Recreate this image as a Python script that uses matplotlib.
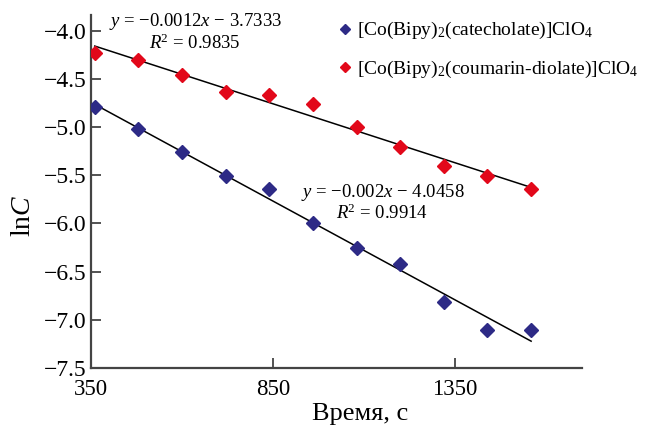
import numpy as np
import matplotlib
matplotlib.use("Agg")
import matplotlib.pyplot as plt

plt.rcParams['font.family'] = ['Liberation Serif', 'DejaVu Serif']
plt.rcParams['mathtext.fontset'] = 'custom'
plt.rcParams['mathtext.rm'] = 'Liberation Serif'
plt.rcParams['mathtext.it'] = 'Liberation Serif:italic'

# time, s
t = [360, 480, 600, 720, 840, 960, 1080, 1200, 1320, 1440, 1560]
# ln C values
ln_cat = [-4.795, -5.02, -5.26, -5.51, -5.64, -6.00, -6.25, -6.42, -6.81, -7.11, -7.11]
ln_cou = [-4.235, -4.31, -4.46, -4.64, -4.665, -4.76, -5.00, -5.21, -5.40, -5.505, -5.645]

lab_cat = r'[Co(Bipy)$_2$(catecholate)]ClO$_4$'
lab_cou = r'[Co(Bipy)$_2$(coumarin-diolate)]ClO$_4$'
eq_cat = '$y$ = \u22120.002$x$ \u2212 4.0458'
r2_cat = '$R$$^2$ = 0.9914'
eq_cou = '$y$ = \u22120.0012$x$ \u2212 3.7333'
r2_cou = '$R$$^2$ = 0.9835'

c_blue = '#2D2A86'
c_red = '#E2081A'

fig = plt.figure(figsize=(6.46, 4.32), dpi=100)
ax = fig.add_axes([0.141, 0.148, 0.76, 0.817])

tt = np.array(t)
for y, col, lab in [(ln_cat, c_blue, lab_cat), (ln_cou, c_red, lab_cou)]:
    k, b = np.polyfit(tt, y, 1)
    ax.plot([tt[0], tt[-1]], [k * tt[0] + b, k * tt[-1] + b], color='black', lw=1.1, zorder=2)
    ax.plot(tt, y, linestyle='none', marker='D', ms=7, color=col, label=lab, zorder=3)

ax.set_xlim(350, 1700)
ax.set_ylim(-7.5, -3.84)
ax.set_xticks([350, 850, 1350])
ax.set_yticks([-7.5, -7.0, -6.5, -6.0, -5.5, -5.0, -4.5, -4.0])
ax.set_yticklabels(['\u2212%.1f' % abs(v) for v in ax.get_yticks()])
ax.tick_params(direction='in', length=7, width=1.3, color='#444444', labelsize=17, pad=3)
ax.tick_params(axis='x', pad=8, labelsize=16.5)
for s in ['top', 'right']:
    ax.spines[s].set_visible(False)
for s in ['left', 'bottom']:
    ax.spines[s].set_color('#444444')
    ax.spines[s].set_linewidth(1.6)

ax.set_xlabel('Время, с', fontsize=19)
ax.xaxis.set_label_coords(0.548, -0.1)
ax.set_ylabel(r'ln$\it{C}$', fontsize=20)
ax.yaxis.set_label_coords(-0.112, 0.43)

ax.text(636, -3.91, eq_cou, ha='center', va='center', fontsize=13.5)
ax.text(636, -4.13, r2_cou, ha='center', va='center', fontsize=13.5)
ax.text(1151, -5.675, eq_cat, ha='center', va='center', fontsize=13.5)
ax.text(1151, -5.89, r2_cat, ha='center', va='center', fontsize=13.5)

ax.legend(loc='upper left', bbox_to_anchor=(0.47, 1.035), frameon=False, fontsize=14,
          handlelength=0.6, handletextpad=0.3, labelspacing=0.9, markerscale=0.75)

fig.savefig('out.png', dpi=100)
